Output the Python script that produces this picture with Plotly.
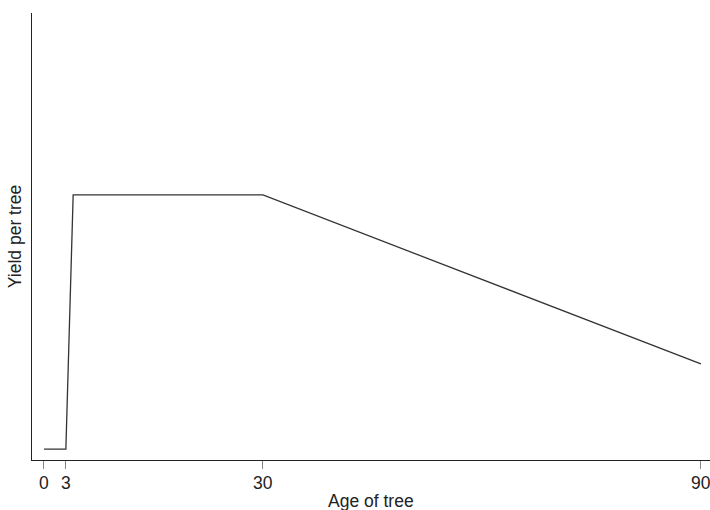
import plotly.graph_objects as go

age = [0, 3, 4, 30, 90]
yield_per_tree = [0, 0, 100, 100, 33.5]
tick_vals = [0, 3, 30, 90]
tick_text = ["0", "3", "30", "90"]

fig = go.Figure()
fig.add_trace(go.Scatter(x=age, y=yield_per_tree, mode="lines",
                         line=dict(color="#333333", width=1.3), showlegend=False,
                         hoverinfo="skip"))

font = dict(family="Liberation Sans, Arial, sans-serif", size=17.5, color="#222222")

annotations = [dict(x=v, y=0, xref="x", yref="paper", text=t, showarrow=False,
                    xanchor="center", yanchor="top", yshift=-11, font=font)
               for v, t in zip(tick_vals, tick_text)]
annotations.append(dict(x=0.5, y=0, xref="paper", yref="paper", text="Age of tree",
                        showarrow=False, xanchor="center", yanchor="top", yshift=-29,
                        font=font))

fig.update_layout(
    width=710, height=510,
    margin=dict(l=32, r=0, t=13, b=50),
    plot_bgcolor="white", paper_bgcolor="white",
    font=font,
    annotations=annotations,
    xaxis=dict(range=[-1.64, 91.25], tickvals=tick_vals, showticklabels=False,
               showgrid=False, zeroline=False, showline=True, linecolor="#222222",
               linewidth=1.3, ticks="outside", ticklen=8, tickcolor="#888888",
               tickwidth=1.3),
    yaxis=dict(range=[-4.3, 171.6], showgrid=False, zeroline=False, showline=True,
               linecolor="#222222", linewidth=1.3, showticklabels=False, ticks="",
               title=dict(text="Yield per tree", font=font, standoff=4)),
)
fig.write_html("out.html")
